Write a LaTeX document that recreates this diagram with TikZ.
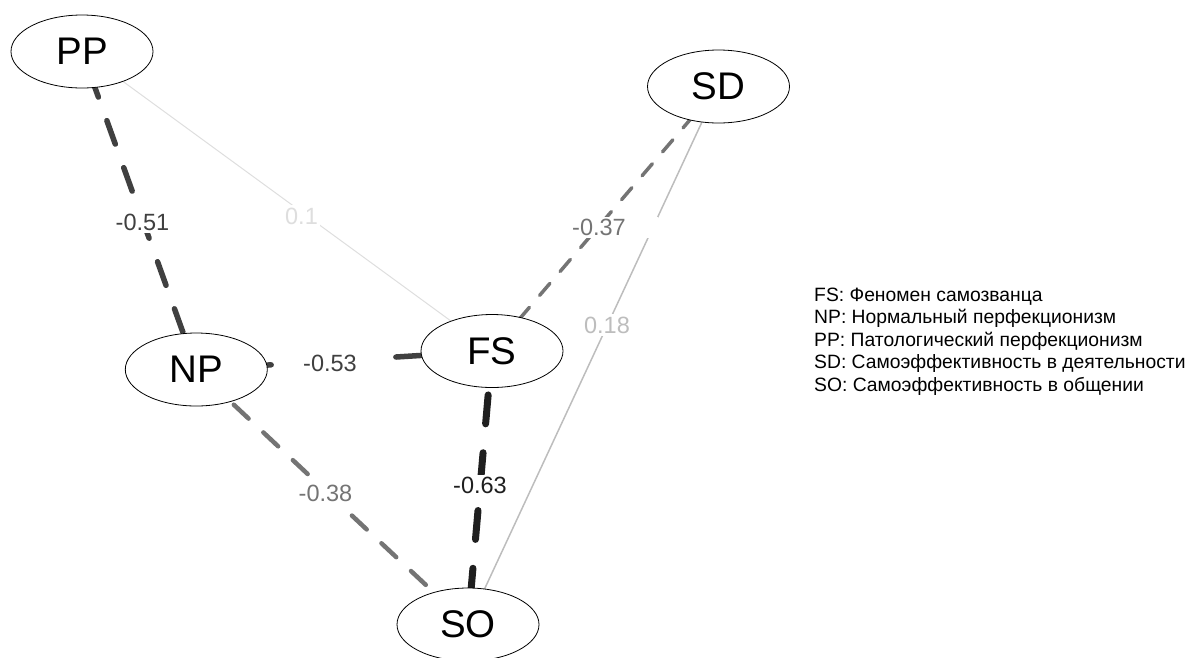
\documentclass[tikz,border=0pt]{standalone}
\usepackage{fontspec}
\setmainfont{Liberation Sans}
\usetikzlibrary{shapes.geometric,backgrounds}
\definecolor{cA}{HTML}{1F1F1F}
\definecolor{cB}{HTML}{404040}
\definecolor{cC}{HTML}{747474}
\definecolor{cD}{HTML}{BDBDBD}
\definecolor{cE}{HTML}{DEDEDE}
\begin{document}
\begin{tikzpicture}[x=1pt,y=-1pt,
  var/.style={ellipse, draw=black, line width=0.8pt, fill=white,
    minimum width=142pt, minimum height=73pt, inner sep=0pt,
    font=\fontsize{38.5}{40}\selectfont},
  elab/.style={fill=white, inner sep=2.5pt, font=\fontsize{23.5}{25}\selectfont},
  conn/.style={line cap=round},
  legline/.style={anchor=base west, inner sep=0pt, font=\fontsize{19.3}{22.5}\selectfont}
]
\useasboundingbox (0,0) rectangle (1193,657);
% nodes
\node[var] (PP) at (82,51.5) {PP};
\node[var] (SD) at (718.5,86.5) {SD};
\node[var] (NP) at (196.3,369.5) {NP};
\node[var] (FS) at (492,351) {FS};
\node[var] (SO) at (468,624.5) {SO};
% edges
\begin{scope}[on background layer]
\draw[conn, cE, line width=1pt] (PP.center) -- (FS.center);
\draw[conn, cD, line width=1.5pt] (SD.center) -- (SO.center);
\draw[conn, cC, line width=3.5pt, dash pattern=on 15.75pt off 15.75pt, dash phase=24.25pt] (SD.center) -- (FS.center);
\draw[conn, cC, line width=4.5pt, dash pattern=on 20.25pt off 20.25pt, dash phase=29.55pt] (NP.center) -- (SO.center);
\draw[conn, cB, line width=5.5pt, dash pattern=on 25pt off 25pt, dash phase=26.6pt] (PP.center) -- (NP.center);
\draw[conn, cB, line width=5.5pt, dash pattern=on 25pt off 25pt, dash phase=0pt] (NP.center) -- (FS.center);
\draw[conn, cA, line width=7pt, dash pattern=on 29pt off 29pt, dash phase=13.9pt] (FS.center) -- (SO.center);
\end{scope}
% edge labels
\node[elab, text=cB] (l1) at (142.5,222.5) {-0.51};
\node[elab, text=cE] (l2) at (301.5,216) {0.1};
\node[elab, text=cC, minimum width=118pt] (l3) at (599,227.5) {-0.37};
\node[elab, text=cD] (l4) at (607,325) {0.18};
\node[elab, text=cB, minimum width=104pt, minimum height=30pt] (l5) at (330,363.5) {-0.53};
\node[elab, text=cC] (l6) at (325.5,493.5) {-0.38};
\node[elab, text=cA] (l7) at (480,485.5) {-0.63};
% legend
\node[legline] (g1) at (814,301) {FS: Феномен самозванца};
\node[legline] (g2) at (814,323.5) {NP: Нормальный перфекционизм};
\node[legline] (g3) at (814,346) {PP: Патологический перфекционизм};
\node[legline] (g4) at (814,368.5) {SD: Самоэффективность в деятельности};
\node[legline] (g5) at (814,391) {SO: Самоэффективность в общении};
\end{tikzpicture}
\end{document}
